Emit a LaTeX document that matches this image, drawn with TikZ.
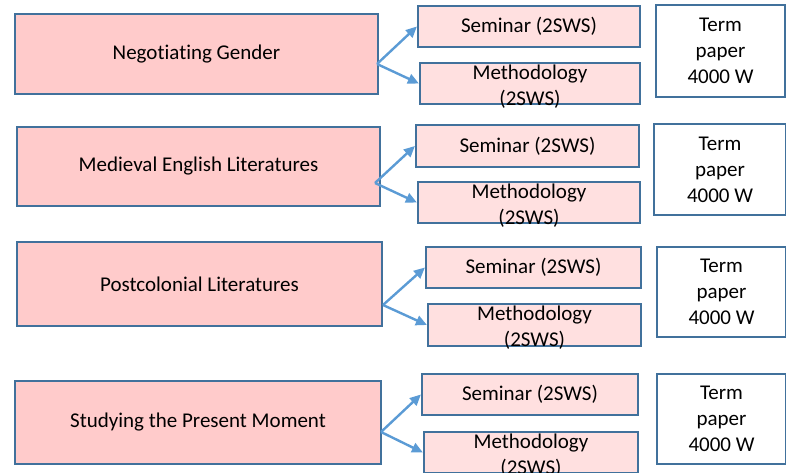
\documentclass[tikz,border=0pt]{standalone}
\usepackage{fontspec}
\setmainfont{Carlito}[Ligatures=CommonOff]
\usetikzlibrary{arrows.meta}

\definecolor{boxblue}{HTML}{41719C}
\definecolor{arrowblue}{HTML}{5B9BD5}
\definecolor{mainpink}{HTML}{FFCBCB}
\definecolor{subpink}{HTML}{FFE0E0}

\newcommand{\boxfont}{\fontsize{21}{26}\selectfont}

\tikzset{
	course/.style={draw=boxblue, line width=2.2pt, fill=mainpink, inner sep=0pt, font=\boxfont},
	part/.style={draw=boxblue, line width=2.2pt, fill=subpink, inner sep=0pt, font=\boxfont},
	paper/.style={draw=boxblue, line width=2.2pt, fill=white, inner sep=0pt, align=center, font=\boxfont},
	parttext/.style={inner sep=0pt, align=center, font=\boxfont},
	split/.style={draw=arrowblue, line width=2.4pt, -{Triangle[length=11pt,width=10pt]}}
}

\begin{document}
\begin{tikzpicture}[x=1pt, y=-1pt]
		\useasboundingbox (0,0) rectangle (786,473);

		% Negotiating Gender
		\node[course, minimum width=363pt, minimum height=80pt] (neg) at (196.5,54) {Negotiating Gender};
		\node[part, minimum width=222pt, minimum height=41pt] (sem1) at (529,26.5) {Seminar (2SWS)};
		\node[part, minimum width=220pt, minimum height=41pt] (met1) at (530,83.5) {};
		\node[parttext, yshift=-3pt] (met1t) at (met1.center) {Methodology\\(2SWS)};
		\node[paper, minimum width=129pt, minimum height=92pt] (term1) at (720.5,51) {Term\\paper\\4000 W};
		\coordinate (neg-o) at (377,64);
		\draw[split] (neg-o) -- (sem1.west);
		\draw[split] (neg-o) -- (met1.west);

		% Medieval English Literatures
		\node[course, minimum width=363pt, minimum height=79pt] (med) at (198.5,166.5) {Medieval English Literatures};
		\node[part, minimum width=223pt, minimum height=42pt] (sem2) at (527.5,146) {Seminar (2SWS)};
		\node[part, minimum width=222pt, minimum height=41pt] (met2) at (529,202.5) {};
		\node[parttext, yshift=-3pt] (met2t) at (met2.center) {Methodology\\(2SWS)};
		\node[paper, minimum width=132pt, minimum height=91pt] (term2) at (720,169.5) {Term\\paper\\4000 W};
		\coordinate (med-o) at (375,183);
		\draw[split] (med-o) -- (sem2.west);
		\draw[split] (med-o) -- (met2.west);

		% Postcolonial Literatures
		\node[course, minimum width=365pt, minimum height=84pt] (post) at (199.5,284) {Postcolonial Literatures};
		\node[part, minimum width=215pt, minimum height=41pt] (sem3) at (533.5,267.5) {Seminar (2SWS)};
		\node[part, minimum width=213pt, minimum height=42pt] (met3) at (534.5,325) {};
		\node[parttext, yshift=-3pt] (met3t) at (met3.center) {Methodology\\(2SWS)};
		\node[paper, minimum width=129pt, minimum height=90pt] (term3) at (721.5,292) {Term\\paper\\4000 W};
		\coordinate (post-o) at (383,305);
		\draw[split] (post-o) -- (sem3.west);
		\draw[split] (post-o) -- (met3.west);

		% Studying the Present Moment
		\node[course, minimum width=366pt, minimum height=83pt] (stud) at (198,422.5) {Studying the Present Moment};
		\node[part, minimum width=216pt, minimum height=41pt] (sem4) at (530,394.5) {Seminar (2SWS)};
		\node[part, minimum width=214pt, minimum height=41pt] (met4) at (531,452.5) {};
		\node[parttext, yshift=-3pt] (met4t) at (met4.center) {Methodology\\(2SWS)};
		\node[paper, minimum width=129pt, minimum height=90pt] (term4) at (721.5,419) {Term\\paper\\4000 W};
		\coordinate (stud-o) at (381,432);
		\draw[split] (stud-o) -- (sem4.west);
		\draw[split] (stud-o) -- (met4.west);
	\end{tikzpicture}
\end{document}
